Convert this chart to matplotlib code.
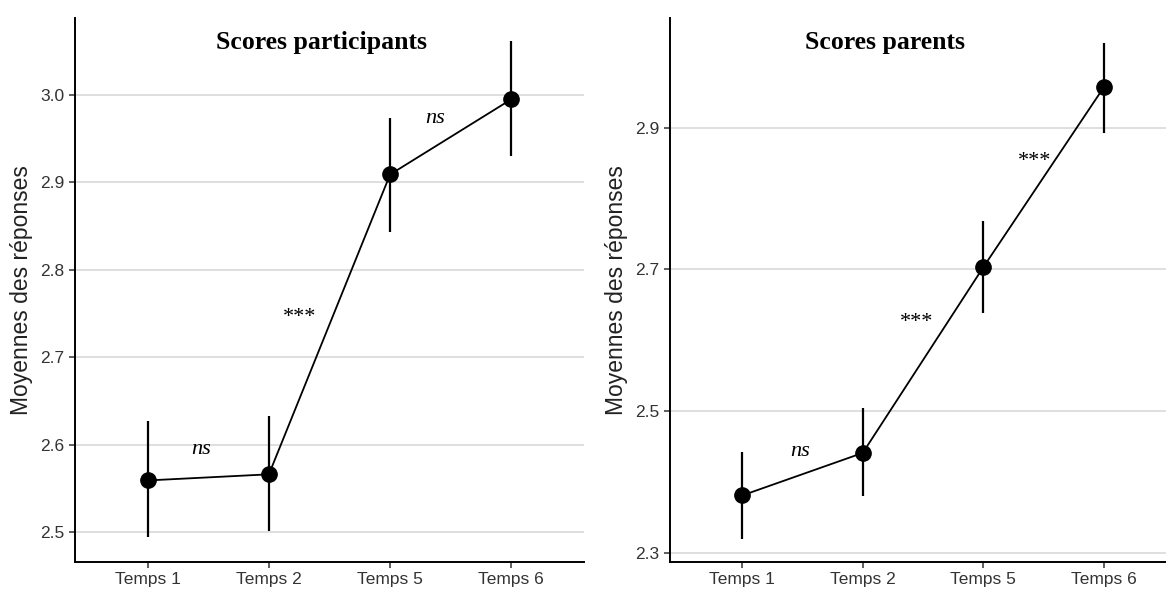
import matplotlib
matplotlib.use("Agg")
import matplotlib.pyplot as plt
import numpy as np

temps = ["Temps 1", "Temps 2", "Temps 5", "Temps 6"]

# scores participants
part_mean = [2.559, 2.566, 2.909, 2.995]
part_low = [2.494, 2.501, 2.843, 2.930]
part_high = [2.627, 2.633, 2.974, 3.062]

# scores parents
par_mean = [2.381, 2.441, 2.703, 2.957]
par_low = [2.320, 2.380, 2.638, 2.893]
par_high = [2.443, 2.504, 2.768, 3.020]

part_ann = ["ns", "***", "ns"]
par_ann = ["ns", "***", "***"]

fig = plt.figure(figsize=(11.66, 5.9), dpi=100)
ax1 = fig.add_axes([75/1166, 28/590, 509/1166, 544/590])
ax2 = fig.add_axes([670/1166, 28/590, 506/1166, 544/590])

def draw(ax, means, lows, highs, anns, ann_pos, title, yticks, ylim, title_x):
    x = np.arange(len(temps))
    ax.set_axisbelow(True)
    ax.grid(axis="y", color="#dcdcdc", lw=1.3)
    ax.vlines(x, lows, highs, color="black", lw=1.6, zorder=3)
    ax.plot(x, means, color="black", lw=1.3, marker="o", ms=11, zorder=4)
    for txt, (px, py) in zip(anns, ann_pos):
        style = "italic" if txt == "ns" else "normal"
        ax.text(px, py, txt, family="Liberation Serif", style=style,
                fontsize=16, ha="center", va="center")
    ax.set_xlim(-0.6, 3.6)
    ax.set_ylim(*ylim)
    ax.set_xticks(x)
    ax.set_xticklabels(temps)
    ax.set_yticks(yticks)
    ax.set_yticklabels(["%.1f" % t for t in yticks])
    ax.tick_params(labelsize=12.5, labelcolor="#333333", color="#333333",
                   length=4, width=1.1)
    for lab in ax.get_xticklabels() + ax.get_yticklabels():
        lab.set_family("Liberation Sans")
    for s in ["top", "right"]:
        ax.spines[s].set_visible(False)
    for s in ["left", "bottom"]:
        ax.spines[s].set_linewidth(1.4)
    ax.set_ylabel("Moyennes des réponses", fontsize=16.5, family="Liberation Sans",
                  color="#222222", labelpad=5)
    ax.text(title_x, 0.955, title, transform=ax.transAxes, ha="center", va="center",
            family="Liberation Serif", weight="bold", fontsize=18.5)

draw(ax1, part_mean, part_low, part_high, part_ann,
     [(0.44, 2.594), (1.25, 2.745), (2.37, 2.973)],
     "Scores participants", [2.5, 2.6, 2.7, 2.8, 2.9, 3.0], (2.4657, 3.088), 0.484)
draw(ax2, par_mean, par_low, par_high, par_ann,
     [(0.48, 2.443), (1.45, 2.625), (2.43, 2.852)],
     "Scores parents", [2.3, 2.5, 2.7, 2.9], (2.287, 3.055), 0.425)

fig.savefig("out.png", dpi=100)
